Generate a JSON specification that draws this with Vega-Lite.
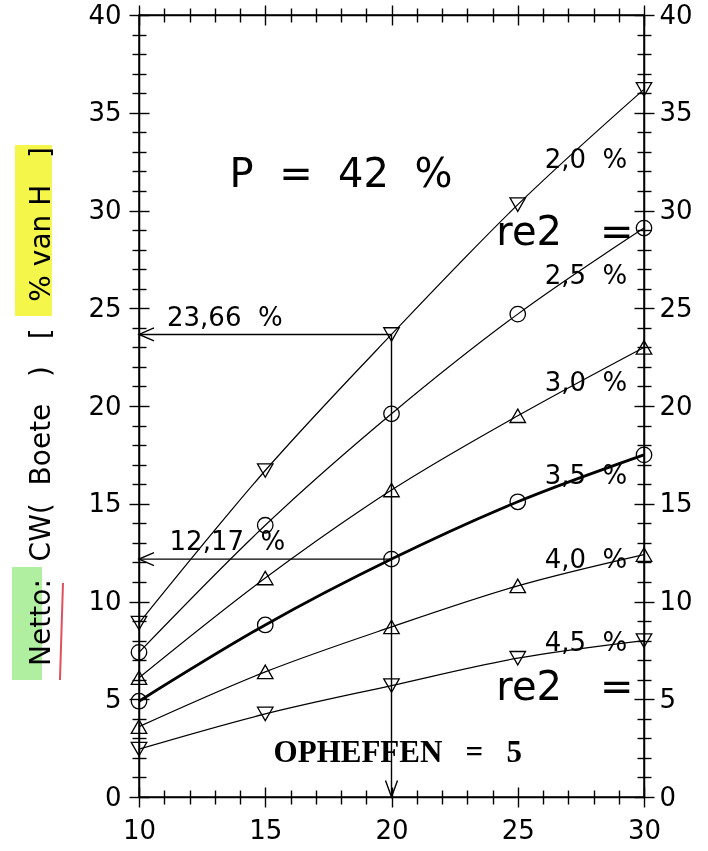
{
  "$schema": "https://vega.github.io/schema/vega-lite/v6.json",
  "width": 505,
  "height": 782,
  "autosize": {"type": "none"},
  "padding": {"left": 139, "top": 15, "right": 64, "bottom": 54},
  "background": "white",
  "config": {
    "view": {"stroke": "black", "strokeWidth": 1.5},
    "font": "DejaVu Sans",
    "axis": {
      "domainColor": "black", "domainWidth": 1.5, "tickColor": "black", "tickWidth": 1.4,
      "labelColor": "black", "labelFont": "DejaVu Sans", "labelFontSize": 26, "labelFontWeight": "normal",
      "labelOverlap": false, "labelFlush": false, "grid": false, "tickSize": 9,
      "titleColor": "black", "titleFont": "DejaVu Sans", "titleFontWeight": "normal"
    }
  },
  "datasets": {
    "curves": [
      {"re2": "2,0", "x": 10, "y": 8.9}, {"re2": "2,0", "x": 15, "y": 16.7}, {"re2": "2,0", "x": 20, "y": 23.66}, {"re2": "2,0", "x": 25, "y": 30.3}, {"re2": "2,0", "x": 30, "y": 36.2},
      {"re2": "2,5", "x": 10, "y": 7.4}, {"re2": "2,5", "x": 15, "y": 13.9}, {"re2": "2,5", "x": 20, "y": 19.6}, {"re2": "2,5", "x": 25, "y": 24.7}, {"re2": "2,5", "x": 30, "y": 29.1},
      {"re2": "3,0", "x": 10, "y": 6.1}, {"re2": "3,0", "x": 15, "y": 11.2}, {"re2": "3,0", "x": 20, "y": 15.7}, {"re2": "3,0", "x": 25, "y": 19.5}, {"re2": "3,0", "x": 30, "y": 23.0},
      {"re2": "3,5", "x": 10, "y": 4.9}, {"re2": "3,5", "x": 15, "y": 8.8}, {"re2": "3,5", "x": 20, "y": 12.17}, {"re2": "3,5", "x": 25, "y": 15.1}, {"re2": "3,5", "x": 30, "y": 17.5},
      {"re2": "4,0", "x": 10, "y": 3.6}, {"re2": "4,0", "x": 15, "y": 6.4}, {"re2": "4,0", "x": 20, "y": 8.7}, {"re2": "4,0", "x": 25, "y": 10.8}, {"re2": "4,0", "x": 30, "y": 12.4},
      {"re2": "4,5", "x": 10, "y": 2.45}, {"re2": "4,5", "x": 15, "y": 4.25}, {"re2": "4,5", "x": 20, "y": 5.7}, {"re2": "4,5", "x": 25, "y": 7.1}, {"re2": "4,5", "x": 30, "y": 8.0}
    ],
    "seriesLabels": [
      {"x": 27.7, "y": 32.6, "text": "2,0\u00a0\u00a0%"},
      {"x": 27.7, "y": 26.65, "text": "2,5\u00a0\u00a0%"},
      {"x": 27.7, "y": 21.2, "text": "3,0\u00a0\u00a0%"},
      {"x": 27.7, "y": 16.4, "text": "3,5\u00a0\u00a0%"},
      {"x": 27.7, "y": 12.1, "text": "4,0\u00a0\u00a0%"},
      {"x": 27.7, "y": 7.9, "text": "4,5\u00a0\u00a0%"},
      {"x": 13.4, "y": 24.5, "text": "23,66\u00a0\u00a0%"},
      {"x": 13.5, "y": 13.05, "text": "12,17\u00a0\u00a0%"}
    ],
    "bigLabels": [
      {"x": 18.0, "y": 31.8, "text": "P\u00a0\u00a0=\u00a0\u00a042\u00a0\u00a0%"},
      {"x": 26.87, "y": 28.85, "text": "re2\u00a0\u00a0\u00a0="},
      {"x": 26.87, "y": 5.6, "text": "re2\u00a0\u00a0\u00a0="}
    ],
    "note": [
      {"x": 20.25, "y": 2.25, "text": "OPHEFFEN\u00a0\u00a0\u00a0=\u00a0\u00a0\u00a05"}
    ],
    "hArrows": [
      {"x": 20, "x2": 10, "y": 23.66},
      {"x": 20, "x2": 10, "y": 12.17}
    ],
    "vArrows": [
      {"x": 20, "y": 23.66, "y2": 0}
    ],
    "heads": [
      {"x": 10, "y": 23.66, "dir": "left"},
      {"x": 10, "y": 12.17, "dir": "left"},
      {"x": 20, "y": 0, "dir": "down"}
    ],
    "highlights": [
      {"x": 5.09, "x2": 6.55, "y": 33.35, "y2": 24.6, "marker": "yellow"},
      {"x": 4.97, "x2": 6.16, "y": 11.76, "y2": 5.98, "marker": "green"}
    ],
    "redLine": [
      {"x": 6.99, "y": 10.95, "x2": 6.87, "y2": 5.98}
    ]
  },
  "layer": [
    {
      "data": {"name": "highlights"},
      "mark": {"type": "rect", "opacity": 1, "blend": "multiply"},
      "encoding": {
        "x": {"field": "x", "type": "quantitative", "scale": {"domain": [10, 30], "nice": false, "zero": false}, "axis": null},
        "x2": {"field": "x2"},
        "y": {"field": "y", "type": "quantitative", "scale": {"domain": [0, 40], "nice": false, "zero": false}, "axis": null},
        "y2": {"field": "y2"},
        "color": {"field": "marker", "type": "nominal", "legend": null,
          "scale": {"domain": ["yellow", "green"], "range": ["#f4f64a", "#b0eea0"]}}
      }
    },
    {
      "data": {"name": "redLine"},
      "mark": {"type": "rule", "color": "#e0505e", "strokeWidth": 2},
      "encoding": {
        "x": {"field": "x", "type": "quantitative", "scale": {"domain": [10, 30], "nice": false, "zero": false}, "axis": null},
        "x2": {"field": "x2"},
        "y": {"field": "y", "type": "quantitative", "scale": {"domain": [0, 40], "nice": false, "zero": false}, "axis": null},
        "y2": {"field": "y2"}
      }
    },
    {
      "data": {"name": "curves"},
      "transform": [{"filter": "datum.re2 !== '3,5'"}],
      "mark": {"type": "line", "color": "black", "interpolate": "monotone", "strokeWidth": 1.2},
      "encoding": {
        "x": {"field": "x", "type": "quantitative", "scale": {"domain": [10, 30], "nice": false, "zero": false},
          "axis": {"orient": "bottom", "title": null, "values": [10,11,12,13,14,15,16,17,18,19,20,21,22,23,24,25,26,27,28,29,30],
            "labelExpr": "datum.value % 5 === 0 ? datum.label : ''", "labelPadding": 11,
            "encoding": {"ticks": {
              "y": {"condition": {"test": "datum.value % 5 === 0", "value": -10}, "value": -7},
              "y2": {"condition": {"test": "datum.value % 5 === 0", "value": 10}, "value": 7}}}}},
        "y": {"field": "y", "type": "quantitative", "scale": {"domain": [0, 40], "nice": false, "zero": false},
          "axis": {"orient": "left", "title": "Netto:\u00a0\u00a0CW(\u00a0\u00a0Boete\u00a0\u00a0\u00a0)\u00a0\u00a0\u00a0[\u00a0\u00a0\u00a0%\u00a0van\u00a0H\u00a0\u00a0\u00a0]", "titleFontSize": 28, "titlePadding": 32,
            "values": [0,1,2,3,4,5,6,7,8,9,10,11,12,13,14,15,16,17,18,19,20,21,22,23,24,25,26,27,28,29,30,31,32,33,34,35,36,37,38,39,40],
            "labelExpr": "datum.value % 5 === 0 ? datum.label : ''", "labelPadding": 9,
            "encoding": {"ticks": {
              "x": {"condition": {"test": "datum.value % 5 === 0", "value": 10}, "value": 7},
              "x2": {"condition": {"test": "datum.value % 5 === 0", "value": -10}, "value": -7}}}}},
        "detail": {"field": "re2", "type": "nominal"}
      }
    },
    {
      "data": {"name": "curves"},
      "transform": [{"filter": "datum.re2 === '3,5'"}],
      "mark": {"type": "line", "color": "black", "interpolate": "monotone", "strokeWidth": 2.8},
      "encoding": {
        "x": {"field": "x", "type": "quantitative", "scale": {"domain": [10, 30], "nice": false, "zero": false}, "axis": null},
        "y": {"field": "y", "type": "quantitative", "scale": {"domain": [0, 40], "nice": false, "zero": false}, "axis": null}
      }
    },
    {
      "data": {"name": "curves"},
      "mark": {"type": "point", "filled": false, "color": "black", "strokeWidth": 1.3, "size": 240, "opacity": 1},
      "encoding": {
        "x": {"field": "x", "type": "quantitative", "scale": {"domain": [10, 30], "nice": false, "zero": false},
          "axis": {"orient": "top", "title": null, "labels": false, "values": [10,11,12,13,14,15,16,17,18,19,20,21,22,23,24,25,26,27,28,29,30],
            "encoding": {"ticks": {
              "y": {"condition": {"test": "datum.value % 5 === 0", "value": 10}, "value": 7},
              "y2": {"condition": {"test": "datum.value % 5 === 0", "value": -10}, "value": -7}}}}},
        "y": {"field": "y", "type": "quantitative", "scale": {"domain": [0, 40], "nice": false, "zero": false},
          "axis": {"orient": "right", "title": null,
            "values": [0,1,2,3,4,5,6,7,8,9,10,11,12,13,14,15,16,17,18,19,20,21,22,23,24,25,26,27,28,29,30,31,32,33,34,35,36,37,38,39,40],
            "labelExpr": "datum.value % 5 === 0 ? datum.label : ''", "labelPadding": 6,
            "encoding": {"ticks": {
              "x": {"condition": {"test": "datum.value % 5 === 0", "value": -10}, "value": -7},
              "x2": {"condition": {"test": "datum.value % 5 === 0", "value": 10}, "value": 7}}}}},
        "shape": {"field": "re2", "type": "nominal", "legend": null,
          "scale": {"domain": ["2,0","2,5","3,0","3,5","4,0","4,5"], "range": ["triangle-down","circle","triangle-up","circle","triangle-up","triangle-down"]}}
      }
    },
    {
      "data": {"name": "hArrows"},
      "mark": {"type": "rule", "color": "black", "strokeWidth": 1.4},
      "encoding": {
        "x": {"field": "x", "type": "quantitative", "scale": {"domain": [10, 30], "nice": false, "zero": false}, "axis": null},
        "x2": {"field": "x2"},
        "y": {"field": "y", "type": "quantitative", "scale": {"domain": [0, 40], "nice": false, "zero": false}, "axis": null}
      }
    },
    {
      "data": {"name": "vArrows"},
      "mark": {"type": "rule", "color": "black", "strokeWidth": 1.4},
      "encoding": {
        "x": {"field": "x", "type": "quantitative", "scale": {"domain": [10, 30], "nice": false, "zero": false}, "axis": null},
        "y": {"field": "y", "type": "quantitative", "scale": {"domain": [0, 40], "nice": false, "zero": false}, "axis": null},
        "y2": {"field": "y2"}
      }
    },
    {
      "data": {"name": "heads"},
      "mark": {"type": "point", "filled": false, "color": "black", "strokeWidth": 1.4, "size": 225, "opacity": 1},
      "encoding": {
        "x": {"field": "x", "type": "quantitative", "scale": {"domain": [10, 30], "nice": false, "zero": false}, "axis": null},
        "y": {"field": "y", "type": "quantitative", "scale": {"domain": [0, 40], "nice": false, "zero": false}, "axis": null},
        "shape": {"field": "dir", "type": "nominal", "legend": null,
          "scale": {"domain": ["left", "down"], "range": ["M2,-0.87L0,0L2,0.87", "M-0.8,-2.2L0,0L0.8,-2.2"]}}
      }
    },
    {
      "data": {"name": "seriesLabels"},
      "mark": {"type": "text", "color": "black", "font": "DejaVu Sans", "fontSize": 26, "align": "center", "baseline": "middle"},
      "encoding": {
        "x": {"field": "x", "type": "quantitative", "scale": {"domain": [10, 30], "nice": false, "zero": false}, "axis": null},
        "y": {"field": "y", "type": "quantitative", "scale": {"domain": [0, 40], "nice": false, "zero": false}, "axis": null},
        "text": {"field": "text"}
      }
    },
    {
      "data": {"name": "bigLabels"},
      "mark": {"type": "text", "color": "black", "font": "DejaVu Sans", "fontSize": 40, "align": "center", "baseline": "middle"},
      "encoding": {
        "x": {"field": "x", "type": "quantitative", "scale": {"domain": [10, 30], "nice": false, "zero": false}, "axis": null},
        "y": {"field": "y", "type": "quantitative", "scale": {"domain": [0, 40], "nice": false, "zero": false}, "axis": null},
        "text": {"field": "text"}
      }
    },
    {
      "data": {"name": "note"},
      "mark": {"type": "text", "color": "black", "font": "Liberation Serif", "fontWeight": "bold", "fontSize": 31, "align": "center", "baseline": "middle"},
      "encoding": {
        "x": {"field": "x", "type": "quantitative", "scale": {"domain": [10, 30], "nice": false, "zero": false}, "axis": null},
        "y": {"field": "y", "type": "quantitative", "scale": {"domain": [0, 40], "nice": false, "zero": false}, "axis": null},
        "text": {"field": "text"}
      }
    }
  ],
  "resolve": {"axis": {"x": "independent", "y": "independent"}, "scale": {"shape": "independent", "color": "independent"}}
}
